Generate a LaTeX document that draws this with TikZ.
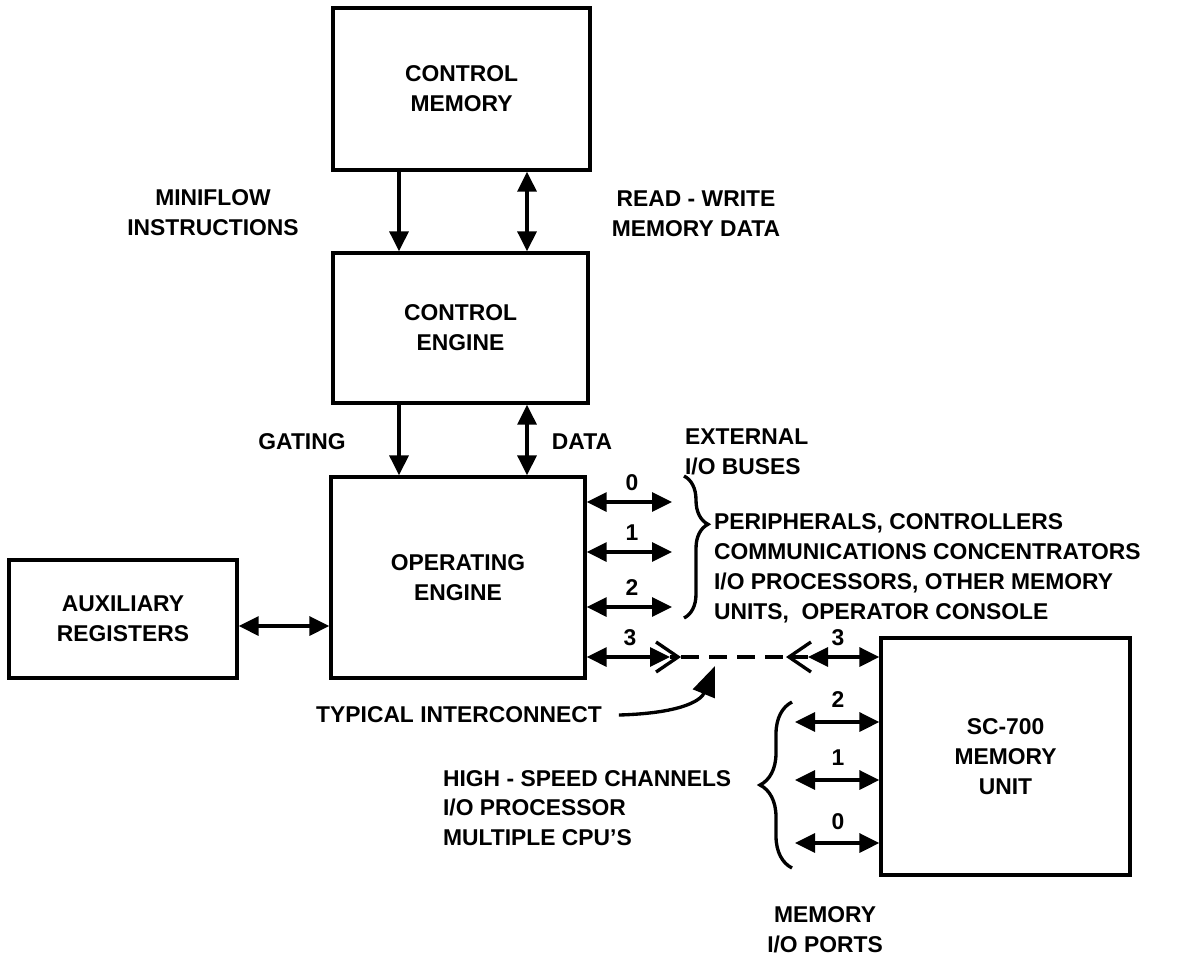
\documentclass[tikz,border=0pt]{standalone}
\usepackage{fontspec}
\setmainfont{Liberation Sans}
\usetikzlibrary{arrows.meta, decorations.pathreplacing}

\begin{document}
\begin{tikzpicture}[x=0.2mm, y=-0.2mm,
  font=\fontsize{13}{17}\selectfont\bfseries,
  unit/.style={draw, line width=1.9pt, align=center, inner sep=0pt},
  lbl/.style={align=center, inner sep=1pt},
  link/.style={line width=1.9pt, -{Triangle[length=4mm, width=3.8mm]}},
  bilink/.style={line width=1.9pt,
                 {Triangle[length=4mm, width=3.8mm]}-{Triangle[length=4mm, width=3.8mm]}},
  plug/.style={line width=1.9pt, -{Straight Barb[length=4.4mm, width=6mm]}},
  brc/.style={line width=1.9pt, decorate},
]
\useasboundingbox (0,0) rectangle (1177,958);

% boxes
\node[unit, minimum width=51.4mm, minimum height=32.4mm] (cm) at (461.5,89) {CONTROL\\MEMORY};
\node[unit, minimum width=51mm, minimum height=30mm] (ce) at (460.5,328) {CONTROL\\ENGINE};
\node[unit, minimum width=50.8mm, minimum height=40.2mm] (oe) at (458,577.5) {OPERATING\\ENGINE};
\node[unit, minimum width=45.6mm, minimum height=23.6mm] (aux) at (123,619) {AUXILIARY\\REGISTERS};
\node[unit, minimum width=49.8mm, minimum height=47.4mm] (mem) at (1005.5,756.5) {SC-700\\MEMORY\\UNIT};

% control paths
\coordinate (colL) at (399,0);
\coordinate (colR) at (527,0);
\draw[link] (cm.south -| colL) -- (ce.north -| colL);
\draw[bilink] (cm.south -| colR) -- (ce.north -| colR);
\draw[link] (ce.south -| colL) -- (oe.north -| colL);
\draw[bilink] (ce.south -| colR) -- (oe.north -| colR);
\node[lbl] (miniflow) at (213,213) {MINIFLOW\\INSTRUCTIONS};
\node[lbl] (rw) at (696,214) {READ - WRITE\\MEMORY DATA};
\node[lbl] (gating) at (302,442) {GATING};
\node[lbl] (data) at (582,442) {DATA};

% auxiliary registers
\coordinate (auxrow) at (0,626);
\draw[bilink] (aux.east |- auxrow) -- (oe.west |- auxrow);

% external buses
\coordinate (bus0) at (672,502);
\coordinate (bus1) at (672,552);
\coordinate (bus2) at (672,607);
\draw[bilink] (oe.east |- bus0) -- (bus0);
\draw[bilink] (oe.east |- bus1) -- (bus1);
\draw[bilink] (oe.east |- bus2) -- (bus2);
\node[lbl] (n0) at (632,483) {0};
\node[lbl] (n1) at (632,533) {1};
\node[lbl] (n2) at (632,588) {2};
\coordinate (busTop) at (684,476);
\coordinate (busBot) at (684,618);
\draw[brc, decoration={brace, amplitude=4.8mm, aspect=0.34}] (busTop) -- (busBot);
\node[lbl, anchor=west, align=left] (ext) at (683,452) {EXTERNAL\\I/O BUSES};
\node[lbl, anchor=west, align=left] (periph) at (712,568)
  {PERIPHERALS, CONTROLLERS\\COMMUNICATIONS CONCENTRATORS\\I/O PROCESSORS, OTHER MEMORY\\UNITS,\ \ OPERATOR CONSOLE};

% typical interconnect, bus 3
\coordinate (tipL) at (670,657);
\coordinate (plugL) at (681,657);
\coordinate (plugR) at (786,657);
\coordinate (tipR) at (808,657);
\draw[bilink] (oe.east |- tipL) -- (tipL);
\draw[plug] (tipL) -- (plugL);
\draw[line width=1.9pt, dash pattern=on 3.6mm off 2mm] (plugL) -- (plugR);
\draw[plug] (tipR) -- (plugR);
\draw[bilink] (tipR) -- (mem.west |- tipR);
\node[lbl] (n3l) at (630,638) {3};
\node[lbl] (n3r) at (838,638) {3};
\node[lbl] (typ) at (459,715) {TYPICAL INTERCONNECT};
\coordinate (typTip) at (715,666);
\draw[line width=1.9pt, -{Triangle[length=6mm, width=4.6mm]}]
  ([xshift=3mm]typ.east) .. controls (688,713) and (702,698) .. (typTip);

% memory ports
\coordinate (port2) at (795,722);
\coordinate (port1) at (795,780);
\coordinate (port0) at (795,843);
\draw[bilink] (port2) -- (mem.west |- port2);
\draw[bilink] (port1) -- (mem.west |- port1);
\draw[bilink] (port0) -- (mem.west |- port0);
\node[lbl] (m2) at (838,700) {2};
\node[lbl] (m1) at (838,758) {1};
\node[lbl] (m0) at (838,822) {0};
\coordinate (portTop) at (792,702);
\coordinate (portBot) at (792,868);
\draw[brc, decoration={brace, amplitude=6.4mm, aspect=0.5}] (portBot) -- (portTop);
\node[lbl, anchor=west, align=left] (hs) at (441,808) {HIGH - SPEED CHANNELS\\I/O PROCESSOR\\MULTIPLE CPU'S};
\node[lbl] (ports) at (825,930) {MEMORY\\I/O PORTS};
\end{tikzpicture}
\end{document}
